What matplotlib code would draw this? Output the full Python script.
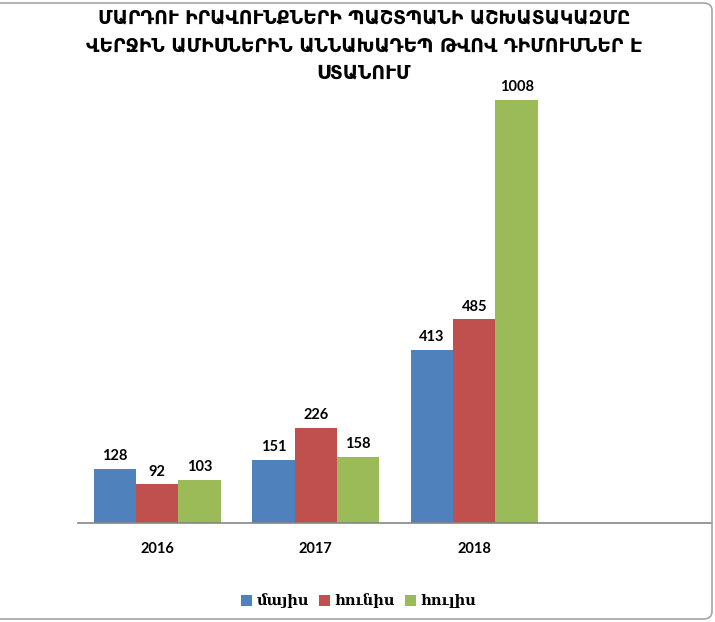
import matplotlib
matplotlib.use("Agg")
import matplotlib.pyplot as plt
from matplotlib.patches import FancyBboxPatch
import numpy as np

# Data
years = ["2016", "2017", "2018", ""]
series_names = ["մայիս", "հունիս", "հուլիս"]
may = [128, 151, 413]
june = [92, 226, 485]
july = [103, 158, 1008]
colors = ["#4F81BD", "#C0504D", "#9BBB59"]

title_lines = ["ՄԱՐԴՈՒ ԻՐԱՎՈՒՆՔՆԵՐԻ ՊԱՇՏՊԱՆԻ ԱՇԽԱՏԱԿԱԶՄԸ",
               "ՎԵՐՋԻՆ ԱՄԻՍՆԵՐԻՆ ԱՆՆԱԽԱԴԵՊ ԹՎՈՎ ԴԻՄՈՒՄՆԵՐ Է",
               "ՍՏԱՆՈՒՄ"]

W, H = 715, 622
fig = plt.figure(figsize=(W / 100, H / 100), dpi=100)
fig.patch.set_facecolor("white")

# rounded chart-area frame (left edge runs off the canvas)
frame = FancyBboxPatch((-20 / W, 3 / H), (712 + 20) / W, (619 - 3) / H,
                       boxstyle="round,pad=0,rounding_size=0.012",
                       transform=fig.transFigure, facecolor="none",
                       edgecolor="#A6A6A6", linewidth=1.2, zorder=0)
fig.patches.append(frame)

# plot area: baseline at y=523 px, 1008 at y=100 px
base_px = 523
px_per_unit = (523 - 100) / 1008
ymax = 1100
top_px = base_px - ymax * px_per_unit
left_px, right_px = 78, 712
ax = fig.add_axes([left_px / W, (H - base_px) / H,
                   (right_px - left_px) / W, (base_px - top_px) / H])
ax.set_xlim(-0.5, len(years) - 0.5)
ax.set_ylim(0, ymax)

x = np.arange(3)
bw = 0.268
label_font = dict(family=["Lato", "DejaVu Sans"], fontsize=10.5, fontweight="bold")
for i, (vals, c, name) in enumerate(zip([may, june, july], colors, series_names)):
    bars = ax.bar(x + (i - 1) * bw, vals, width=bw, color=c, label=name, zorder=2)
    for b, v in zip(bars, vals):
        ax.text(b.get_x() + b.get_width() / 2, v + 14, str(v),
                ha="center", va="bottom", color="black", **label_font)

for s in ["top", "right", "left"]:
    ax.spines[s].set_visible(False)
ax.spines["bottom"].set_color("#868686")
ax.spines["bottom"].set_linewidth(1.2)
ax.set_yticks([])
ax.set_xticks(np.arange(len(years)))
ax.set_xticklabels(years)
ax.tick_params(axis="x", length=0, pad=14)
for t in ax.get_xticklabels():
    t.set_fontfamily(["Lato", "DejaVu Sans"])
    t.set_fontweight("bold")
    t.set_fontsize(10.5)

# three-line title, each line placed on its own baseline
title_font = ["DejaVu Sans"]
for k, (line, ypx) in enumerate(zip(title_lines, [18, 46, 73])):
    fig.text(364 / W, 1 - ypx / H, line, ha="center", va="center",
             family=title_font, fontsize=13.5, fontweight="semibold",
             color="black")

handles, labels = ax.get_legend_handles_labels()
fig.legend(handles, labels, loc="center", bbox_to_anchor=(359 / W, 1 - 601 / H),
           ncol=3, frameon=False, handlelength=0.75, handleheight=0.75,
           handletextpad=0.3, columnspacing=0.7,
           prop=dict(family=["DejaVu Serif", "DejaVu Sans"], weight="bold", size=10.5))

fig.savefig("out.png", dpi=100)
